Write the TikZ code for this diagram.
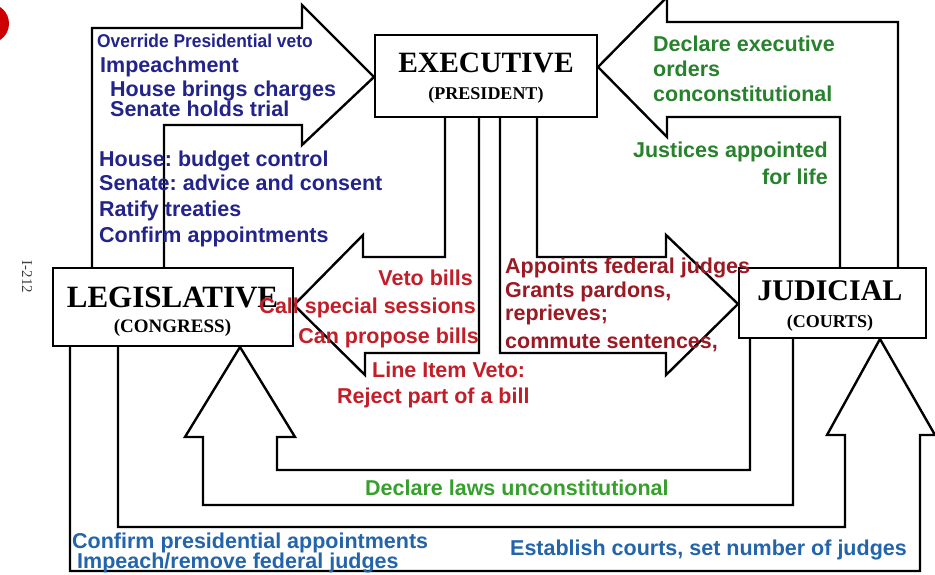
\documentclass[tikz,border=0pt]{standalone}
\usepackage{fontspec}
\setmainfont{Liberation Sans}
\newfontfamily\boxfont{Liberation Serif}
\definecolor{navy}{RGB}{35,35,140}
\definecolor{redA}{RGB}{195,30,40}
\definecolor{redB}{RGB}{155,25,35}
\definecolor{greenA}{RGB}{40,130,45}
\definecolor{greenB}{RGB}{55,160,45}
\definecolor{blueA}{RGB}{35,100,170}
\definecolor{dotred}{RGB}{205,0,0}
\frenchspacing
\begin{document}
\begin{tikzpicture}[x=1pt,y=-1pt,
  branch/.style={draw=black, line width=2.5pt, fill=white, inner sep=0pt},
  blockarrow/.style={draw=black, line width=2.4pt, line join=miter},
  txt/.style={inner sep=0pt, font=\fontsize{21.5}{24}\selectfont\bfseries},
  ttl/.style={inner sep=0pt, anchor=base},
  navytxt/.style={txt, text=navy, anchor=base west},
  redLtxt/.style={txt, text=redA},
  redRtxt/.style={txt, text=redB, anchor=base west},
  greentxt/.style={txt, text=greenA},
  bluetxt/.style={txt, text=blueA}
]
\useasboundingbox (0,0) rectangle (935,575);
\clip (0,0) rectangle (935,575);
\fill[white] (0,0) rectangle (935,575);

% red dot
\fill[dotred] (-10.6,23.5) circle (19.6);
\node[inner sep=0pt, rotate=-90, text=black!75] (ref) at (27,277) {\fontsize{15}{15}\selectfont\boxfont I-212};

% block arrows
% Legislative -> Executive
\draw[blockarrow] (92,268) -- (92,28) -- (302,28) -- (302,5) -- (374,77) -- (302,145) -- (302,125) -- (164,125) -- (164,268);
% Executive -> Legislative
\draw[blockarrow] (445,117) -- (445,257) -- (363,257) -- (363,235) -- (294,305) -- (365,375) -- (365,353) -- (479,353) -- (479,117);
% Executive -> Judicial
\draw[blockarrow] (500,117) -- (500,353) -- (666,353) -- (666,375) -- (738,304) -- (666,235) -- (666,257) -- (537,257) -- (537,117);
% Judicial -> Executive
\draw[blockarrow] (898,268) -- (898,22) -- (667,22) -- (667,-3) -- (598,67) -- (667,137) -- (667,117) -- (840,117) -- (840,268);
% Judicial -> Legislative
\draw[blockarrow] (793,338) -- (793,505) -- (203,505) -- (203,437) -- (185,437) -- (240,347) -- (295,437) -- (277,437) -- (277,470) -- (750,470) -- (750,338);
% Legislative -> Judicial
\draw[blockarrow] (70,346) -- (70,571) -- (920,571) -- (920,435) -- (935,435) -- (880,339) -- (827,435) -- (845,435) -- (845,527) -- (118,527) -- (118,346);

% boxes
\node[branch, minimum width=222pt, minimum height=82pt] (exec) at (486,76) {};
\node[branch, minimum width=240pt, minimum height=78pt] (leg) at (173,307) {};
\node[branch, minimum width=187pt, minimum height=70pt] (jud) at (832.5,303) {};

\node[ttl] (execT) at (486,73) {\fontsize{29.5}{30}\selectfont\boxfont\bfseries EXECUTIVE};
\node[ttl] (execS) at (486,100) {\fontsize{18}{18}\selectfont\boxfont\bfseries (PRESIDENT)};
\node[ttl] (legT) at (172.5,307) {\fontsize{31}{31}\selectfont\boxfont\bfseries LEGISLATIVE};
\node[ttl] (legS) at (172.5,332) {\fontsize{19}{19}\selectfont\boxfont\bfseries (CONGRESS)};
\node[ttl] (judT) at (830,300) {\fontsize{30}{30}\selectfont\boxfont\bfseries JUDICIAL};
\node[ttl] (judS) at (830,327) {\fontsize{18}{18}\selectfont\boxfont\bfseries (COURTS)};

% navy texts
\node[navytxt, font=\fontsize{18.5}{20}\selectfont\bfseries] (t1) at (97,48) {\scalebox{0.94}[1]{Override Presidential veto}};
\node[navytxt] (t2) at (100,73) {Impeachment};
\node[navytxt] (t3) at (110,97) {House brings charges};
\node[navytxt] (t4) at (110,117) {Senate holds trial};
\node[navytxt] (t5) at (99,167) {House: budget control};
\node[navytxt] (t6) at (99,191) {Senate: advice and consent};
\node[navytxt] (t7) at (99,217) {Ratify treaties};
\node[navytxt] (t8) at (99,242) {Confirm appointments};

% red left
\node[redLtxt, anchor=base east] (r1) at (473,285) {Veto bills};
\node[redLtxt, anchor=base east] (r2) at (476,313) {Call special sessions};
\node[redLtxt, anchor=base east] (r3) at (479,343) {Can propose bills};
\node[redLtxt, anchor=base west] (r4) at (372,377) {Line Item Veto:};
\node[redLtxt, anchor=base west] (r5) at (337,403) {Reject part of a bill};

% red right
\node[redRtxt] (s1) at (505,273) {Appoints federal judges};
\node[redRtxt] (s2) at (505,297) {Grants pardons,};
\node[redRtxt] (s3) at (505,320) {reprieves;};
\node[redRtxt] (s4) at (505,348) {commute sentences,};

% green
\node[greentxt, anchor=base west] (g1) at (653,52) {Declare executive};
\node[greentxt, anchor=base west] (g2) at (653,77) {orders};
\node[greentxt, anchor=base west] (g3) at (653,102) {conconstitutional};
\node[greentxt, anchor=base east] (g4) at (828,158) {Justices appointed};
\node[greentxt, anchor=base east] (g5) at (828,185) {for life};
\node[txt, text=greenB, anchor=base west] (g6) at (365,495) {Declare laws unconstitutional};

% blue
\node[bluetxt, anchor=base west] (b1) at (72,548) {Confirm presidential appointments};
\node[bluetxt, anchor=base west] (b2) at (77,568) {Impeach/remove federal judges};
\node[bluetxt, anchor=base east] (b3) at (907,555) {Establish courts, set number of judges};
\end{tikzpicture}
\end{document}
